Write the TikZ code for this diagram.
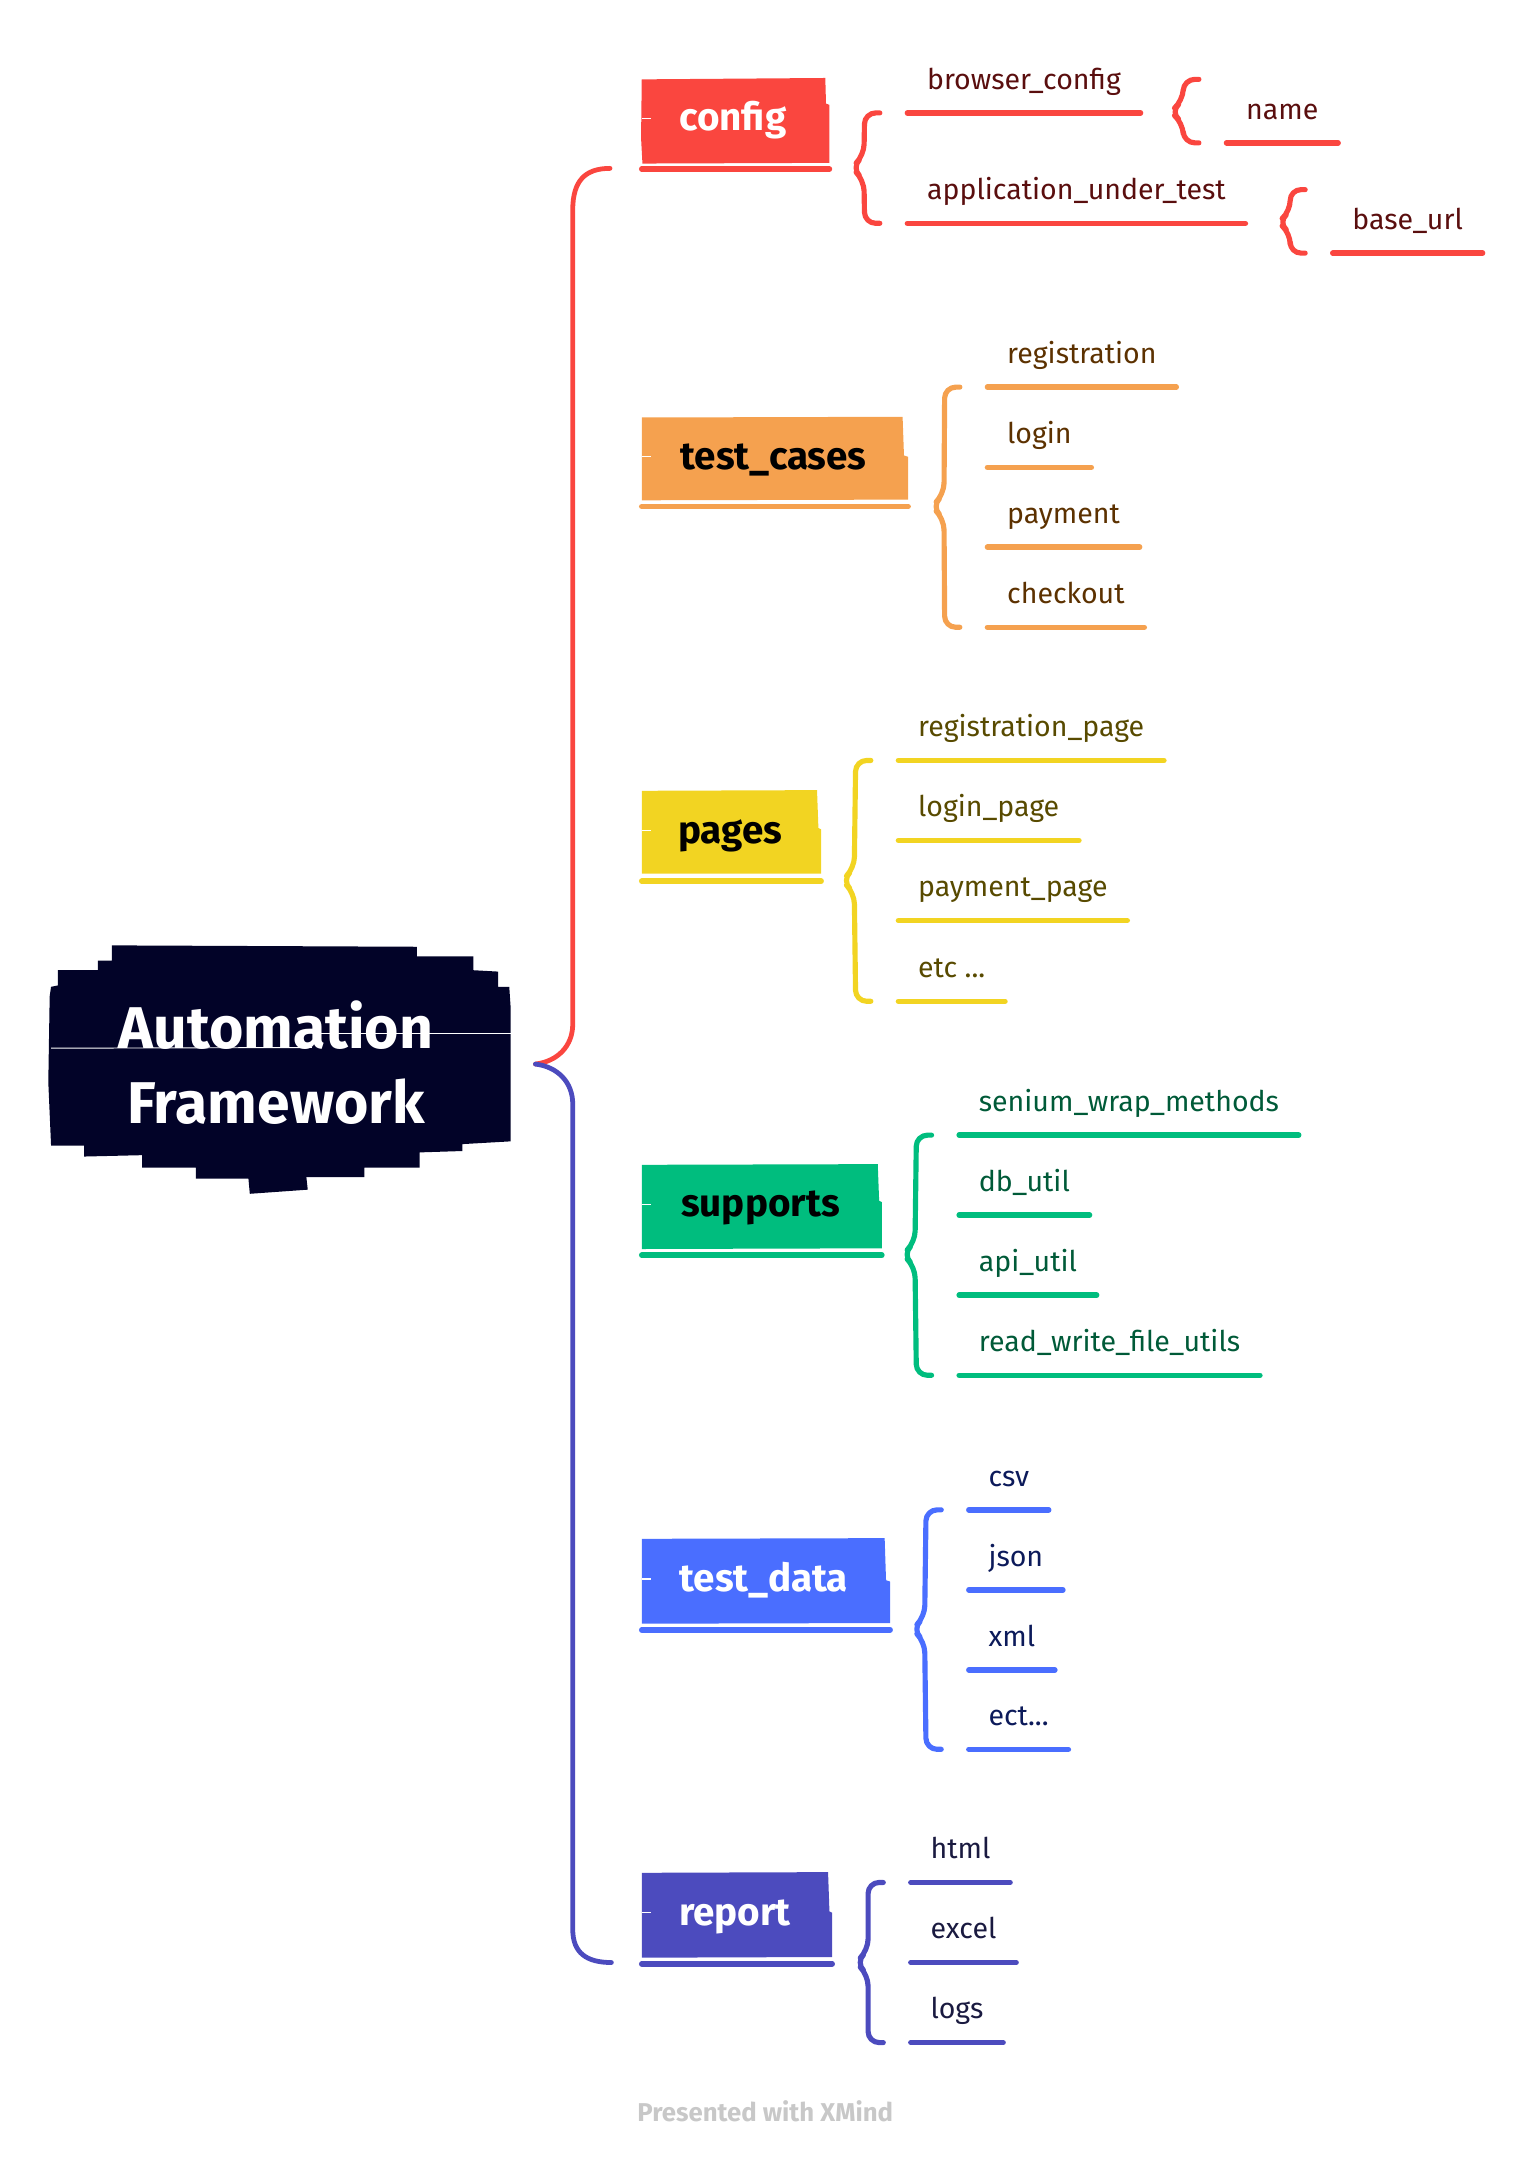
\documentclass[tikz,border=0pt]{standalone}
\usepackage{fontspec}
\setmainfont{Fira Sans}
\usetikzlibrary{calc}

\definecolor{rootnavy}{RGB}{2,3,40}
\definecolor{cfgred}{RGB}{250,70,63}
\definecolor{tcorange}{RGB}{245,161,79}
\definecolor{pgyellow}{RGB}{242,212,34}
\definecolor{supgreen}{RGB}{0,189,126}
\definecolor{tdblue}{RGB}{74,110,255}
\definecolor{repindigo}{RGB}{76,75,190}
\definecolor{cfgtext}{RGB}{90,14,14}
\definecolor{tctext}{RGB}{92,49,0}
\definecolor{pgtext}{RGB}{88,74,0}
\definecolor{suptext}{RGB}{0,90,56}
\definecolor{tdtext}{RGB}{12,26,90}
\definecolor{reptext}{RGB}{26,26,64}
\definecolor{creditgray}{RGB}{200,200,200}

\begin{document}
\begin{tikzpicture}[x=0.75pt,y=0.75pt,yscale=-1,xscale=1,
        trunk/.style={line width=2.6pt,line cap=round},
        bracket/.style={line width=2.8pt,line cap=round,line join=round,rounded corners=6pt},
        uline/.style={line width=3pt,line cap=round},
        notch/.style={white,line width=0.7pt},
        rootlabel/.style={align=center,text=white,inner sep=0pt,font=\fontsize{32}{41}\selectfont\bfseries},
        topic/.style={anchor=base,inner sep=0pt,font=\fontsize{21}{25}\selectfont\bfseries},
        leaf/.style={anchor=south west,inner xsep=10.5pt,inner ysep=12.75pt,text depth=0pt,font=\fontsize{15.5}{18}\selectfont},
        credit/.style={anchor=base,inner sep=0pt,text=creditgray,font=\fontsize{14}{16}\selectfont\bfseries}]
        \useasboundingbox (0,0) rectangle (1109,1568);

        %Shape: Root blob
        \fill[rootnavy] (81,685) -- (302,686) -- (302,693) -- (343,693) -- (343,703) -- (361,704) -- (361,715) -- (369,715) -- (370,730) -- (370,827) -- (335,829) -- (335,834) -- (304,835) -- (304,846) -- (264,846) -- (264,853) -- (222,853) -- (223,862) -- (181,865) -- (180,854) -- (142,854) -- (142,846) -- (103,846) -- (103,837) -- (61,838) -- (61,830) -- (37,830) -- (35,784) -- (36,722) -- (37,715) -- (42,714) -- (42,703) -- (71,703) -- (71,696) -- (81,696) -- cycle;
        \draw[white,line width=0.5pt] (37,759.5) -- (226,759);
        \draw[white,line width=0.5pt] (226,749) -- (370,749);
        \node[rootlabel] (root) at (200,770) {Automation\\Framework};
        \coordinate (root-e) at (388,771);

        %Shape: Topic boxes
        \fill[cfgred] (465,57.5) -- (598,56.5) -- (598.5,75) -- (601,76) -- (601,118) -- (465.5,118.5) -- (464.5,100) -- cycle;
        \fill[tcorange] (465,302.5) -- (654,302) -- (655,330) -- (658,331) -- (658,362) -- (465,362.5) -- cycle;
        \fill[pgyellow] (465,573) -- (592,572.5) -- (593,600) -- (595,601) -- (595,633) -- (465,633) -- cycle;
        \fill[supgreen] (465,844) -- (636,843.5) -- (637,870) -- (639,871) -- (639,904.5) -- (465,905) -- cycle;
        \fill[tdblue] (465,1115) -- (641,1114.5) -- (642,1145) -- (645,1146) -- (645,1176) -- (465,1176.5) -- cycle;
        \fill[repindigo] (465,1357) -- (600,1356.5) -- (601,1385) -- (603,1386) -- (603,1418) -- (465,1418.5) -- cycle;
        %Straight Lines: box notches
        \draw[notch] (465,86) -- (472,86);
        \draw[notch] (465,331) -- (472,331);
        \draw[notch] (465,602) -- (472,602);
        \draw[notch] (465,873) -- (472,873);
        \draw[notch] (465,1144) -- (472,1144);
        \draw[notch] (465,1386) -- (472,1386);
        %Straight Lines: box underlines
        \draw[uline,cfgred] (465,122.5) -- (601,122.5);
        \draw[uline,tcorange] (465,367) -- (658,367);
        \draw[uline,pgyellow] (465,638.5) -- (595,638.5);
        \draw[uline,supgreen] (465,909.5) -- (639,909.5);
        \draw[uline,tdblue] (465,1181) -- (645,1181);
        \draw[uline,repindigo] (465,1423) -- (603,1423);

        \node[topic,text=white] (config) at (531,94.5) {config};
        \node[topic,text=black] (testcases) at (560.5,340) {test\_cases};
        \node[topic,text=black] (pages) at (529,611) {pages};
        \node[topic,text=black] (supports) at (551,881.5) {supports};
        \node[topic,text=white] (testdata) at (553.5,1153) {test\_data};
        \node[topic,text=white] (report) at (532.5,1395) {report};

        %Straight Lines: trunk
        \coordinate (config-in) at (442,122);
        \coordinate (report-in) at (443,1422);
        \draw[trunk,cfgred] (root-e) .. controls (404,769) and (415,758) .. (415,742) -- (415,152) .. controls (415,131) and (424,122) .. (config-in);
        \draw[trunk,repindigo] (root-e) .. controls (404,773) and (415,784) .. (415,800) -- (415,1398) .. controls (415,1415) and (425,1422) .. (report-in);

        %config
        \node[leaf,text=cfgtext] (bcfg) at (657.5,81.8) {browser\_config};
        \node[leaf,text=cfgtext] (aut) at (657.5,161.8) {application\_under\_test};
        \node[leaf,text=cfgtext] (nm) at (888.7,103.5) {name};
        \node[leaf,text=cfgtext] (burl) at (965.7,183.4) {base\_url};
        \coordinate (cfg-tip) at (617,121.5);
        \coordinate (bcfg-tip) at (848,81);
        \coordinate (aut-tip) at (926,161);
        \draw[uline,cfgred] (bcfg.south west) -- (bcfg.south east);
        \draw[uline,cfgred] (aut.south west) -- (aut.south east);
        \draw[uline,cfgred] (nm.south west) -- (nm.south east);
        \draw[uline,cfgred] (burl.south west) -- (burl.south east);
        \draw[bracket,cfgred] ($(bcfg.south west)+(-20,0)$) -- ($(bcfg.south west)+(-31,0)$) -- ($(cfg-tip)+(9,-9)$) -- (cfg-tip) -- ($(cfg-tip)+(9,9)$) -- ($(aut.south west)+(-31,0)$) -- ($(aut.south west)+(-20,0)$);
        \draw[bracket,cfgred] ($(nm.south west)+(-20,-46)$) -- ($(nm.south west)+(-31,-46)$) -- ($(bcfg-tip)+(9,-8)$) -- (bcfg-tip) -- ($(bcfg-tip)+(9,8)$) -- ($(nm.south west)+(-31,0)$) -- ($(nm.south west)+(-20,0)$);
        \draw[bracket,cfgred] ($(burl.south west)+(-20,-46)$) -- ($(burl.south west)+(-31,-46)$) -- ($(aut-tip)+(9,-8)$) -- (aut-tip) -- ($(aut-tip)+(9,8)$) -- ($(burl.south west)+(-31,0)$) -- ($(burl.south west)+(-20,0)$);

        %test_cases
        \node[leaf,text=tctext] (reg) at (715.5,280.5) {registration};
        \node[leaf,text=tctext] (lgn) at (715.5,338.7) {login};
        \node[leaf,text=tctext] (pay) at (715.5,396.5) {payment};
        \node[leaf,text=tctext] (chk) at (715.5,454.5) {checkout};
        \coordinate (tc-tip) at (675,367);
        \draw[uline,tcorange] (reg.south west) -- (reg.south east);
        \draw[uline,tcorange] (lgn.south west) -- (lgn.south east);
        \draw[uline,tcorange] (pay.south west) -- (pay.south east);
        \draw[uline,tcorange] (chk.south west) -- (chk.south east);
        \draw[bracket,tcorange] ($(reg.south west)+(-20,0)$) -- ($(reg.south west)+(-31,0)$) -- ($(tc-tip)+(9,-9)$) -- (tc-tip) -- ($(tc-tip)+(9,9)$) -- ($(chk.south west)+(-31,0)$) -- ($(chk.south west)+(-20,0)$);

        %pages
        \node[leaf,text=pgtext] (regp) at (651,551) {registration\_page};
        \node[leaf,text=pgtext] (lgnp) at (651,609) {login\_page};
        \node[leaf,text=pgtext] (payp) at (651,667) {payment\_page};
        \node[leaf,text=pgtext] (etcp) at (651,725.5) {etc ...};
        \coordinate (pg-tip) at (610,638);
        \draw[uline,pgyellow] (regp.south west) -- (regp.south east);
        \draw[uline,pgyellow] (lgnp.south west) -- (lgnp.south east);
        \draw[uline,pgyellow] (payp.south west) -- (payp.south east);
        \draw[uline,pgyellow] (etcp.south west) -- (etcp.south east);
        \draw[bracket,pgyellow] ($(regp.south west)+(-20,0)$) -- ($(regp.south west)+(-31,0)$) -- ($(pg-tip)+(9,-9)$) -- (pg-tip) -- ($(pg-tip)+(9,9)$) -- ($(etcp.south west)+(-31,0)$) -- ($(etcp.south west)+(-20,0)$);

        %supports
        \node[leaf,text=suptext] (swm) at (695,822.5) {senium\_wrap\_methods};
        \node[leaf,text=suptext] (dbu) at (695,880.5) {db\_util};
        \node[leaf,text=suptext] (apiu) at (695,938.5) {api\_util};
        \node[leaf,text=suptext] (rwf) at (695,996.5) {read\_write\_file\_utils};
        \coordinate (sup-tip) at (654,909);
        \draw[uline,supgreen] (swm.south west) -- (swm.south east);
        \draw[uline,supgreen] (dbu.south west) -- (dbu.south east);
        \draw[uline,supgreen] (apiu.south west) -- (apiu.south east);
        \draw[uline,supgreen] (rwf.south west) -- (rwf.south east);
        \draw[bracket,supgreen] ($(swm.south west)+(-20,0)$) -- ($(swm.south west)+(-31,0)$) -- ($(sup-tip)+(9,-9)$) -- (sup-tip) -- ($(sup-tip)+(9,9)$) -- ($(rwf.south west)+(-31,0)$) -- ($(rwf.south west)+(-20,0)$);

        %test_data
        \node[leaf,text=tdtext] (csv) at (702,1094) {csv};
        \node[leaf,text=tdtext] (json) at (702,1152) {json};
        \node[leaf,text=tdtext] (xml) at (702,1210) {xml};
        \node[leaf,text=tdtext] (ect) at (702,1267.5) {ect...};
        \coordinate (td-tip) at (661,1180.5);
        \draw[uline,tdblue] (csv.south west) -- (csv.south east);
        \draw[uline,tdblue] (json.south west) -- (json.south east);
        \draw[uline,tdblue] (xml.south west) -- (xml.south east);
        \draw[uline,tdblue] (ect.south west) -- (ect.south east);
        \draw[bracket,tdblue] ($(csv.south west)+(-20,0)$) -- ($(csv.south west)+(-31,0)$) -- ($(td-tip)+(9,-9)$) -- (td-tip) -- ($(td-tip)+(9,9)$) -- ($(ect.south west)+(-31,0)$) -- ($(ect.south west)+(-20,0)$);

        %report
        \node[leaf,text=reptext] (html) at (660,1364) {html};
        \node[leaf,text=reptext] (xls) at (660,1422) {excel};
        \node[leaf,text=reptext] (logs) at (660,1480) {logs};
        \coordinate (rep-tip) at (620,1422);
        \draw[uline,repindigo] (html.south west) -- (html.south east);
        \draw[uline,repindigo] (xls.south west) -- (xls.south east);
        \draw[uline,repindigo] (logs.south west) -- (logs.south east);
        \draw[bracket,repindigo] ($(html.south west)+(-20,0)$) -- ($(html.south west)+(-31,0)$) -- ($(rep-tip)+(9,-9)$) -- (rep-tip) -- ($(rep-tip)+(9,9)$) -- ($(logs.south west)+(-31,0)$) -- ($(logs.south west)+(-20,0)$);

        \node[credit] (xmind) at (554.5,1537) {Presented with XMind};
\end{tikzpicture}
\end{document}
